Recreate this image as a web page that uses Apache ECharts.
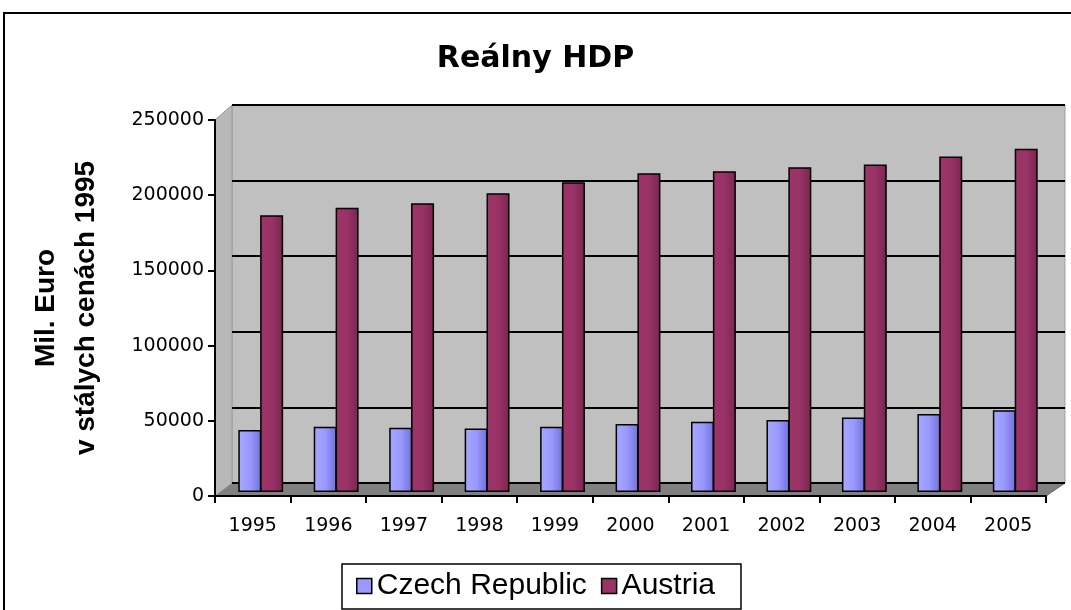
<!DOCTYPE html>
<html>
<head>
    <meta charset="utf-8" />
    <title>Reálny HDP</title>
    <script src="https://cdn.jsdelivr.net/npm/echarts@6/dist/echarts.min.js"></script>
    <style type="text/css">
        html, body { margin: 0; padding: 0; background: #fff; }
        #chart { width: 1071px; height: 610px; }
    </style>
</head>
<body>
    <div id="chart"></div>
    <script>
        // data
        var years = ['1995', '1996', '1997', '1998', '1999', '2000', '2001', '2002', '2003', '2004', '2005'];
        var czech = [41200, 43400, 42700, 42300, 43400, 45200, 46700, 47800, 49600, 51800, 54400];
        var austria = [184000, 189000, 192000, 198700, 206000, 212000, 213300, 216000, 217800, 223100, 228200];
        var yTicks = [0, 50000, 100000, 150000, 200000, 250000];

        var font = 'Liberation Sans, Arial, sans-serif';
        var wideFont = 'DejaVu Sans, sans-serif';
        var chart = echarts.init(document.getElementById('chart'));

        // cylinder-like shading
        function shade(light, mid, dark) {
            return new echarts.graphic.LinearGradient(0, 0, 1, 0, [
                { offset: 0, color: light },
                { offset: 0.5, color: mid },
                { offset: 1, color: dark }
            ]);
        }

        var option = {
            backgroundColor: '#ffffff',
            animation: false,
            title: {
                text: 'Reálny HDP',
                left: 'center',
                top: 39,
                textStyle: { fontFamily: wideFont, fontSize: 30, fontWeight: 'bold', color: '#000' }
            },
            legend: {
                bottom: 1,
                left: 'center',
                itemWidth: 15,
                itemHeight: 15,
                itemGap: 14,
                icon: 'rect',
                borderColor: '#000',
                borderWidth: 1.5,
                padding: [7, 26, 8, 14],
                textStyle: { fontFamily: font, fontSize: 30, color: '#000' },
                data: [
                    { name: 'Czech Republic', itemStyle: { color: '#9999ff', borderColor: '#000', borderWidth: 1.5 } },
                    { name: 'Austria', itemStyle: { color: '#993366', borderColor: '#000', borderWidth: 1.5 } }
                ]
            },
            graphic: [
                {
                    type: 'rect',
                    shape: { x: 4, y: 13, width: 1080, height: 620 },
                    style: { fill: 'none', stroke: '#000', lineWidth: 2 },
                    z: -10
                },
                // floor of the 3D box
                {
                    type: 'polygon',
                    shape: { points: [[215, 496], [232, 483], [1065, 483], [1046, 496]] },
                    style: { fill: '#808080', stroke: '#666', lineWidth: 1 },
                    z: 0
                },
                // left wall of the 3D box
                {
                    type: 'polygon',
                    shape: { points: [[215, 120], [232, 105], [232, 483], [215, 496]] },
                    style: { fill: '#b8b8b8', stroke: '#999', lineWidth: 1 },
                    z: 0
                }
            ],
            grid: [
                // back wall
                { left: 232, right: 6, top: 105, bottom: 127, show: true, backgroundColor: '#c0c0c0', borderColor: '#a0a0a0', borderWidth: 1 },
                // front axes
                { left: 215, right: 25, top: 120, bottom: 114 },
                // bars
                { left: 223, right: 18, top: 116, bottom: 118 }
            ],
            xAxis: [
                { gridIndex: 0, type: 'category', data: years, show: false },
                {
                    gridIndex: 1, type: 'category', data: years,
                    axisLine: { lineStyle: { color: '#000', width: 2 } },
                    axisTick: { show: true, length: 7, lineStyle: { color: '#000', width: 2 } },
                    axisLabel: { fontFamily: wideFont, fontSize: 19, color: '#000', margin: 21 }
                },
                { gridIndex: 2, type: 'category', data: years, show: false }
            ],
            yAxis: [
                {
                    gridIndex: 0, type: 'value', min: 0, max: 250000, interval: 50000,
                    axisLine: { show: false }, axisTick: { show: false }, axisLabel: { show: false },
                    splitLine: { lineStyle: { color: '#000', width: 2 } }
                },
                {
                    gridIndex: 1, type: 'value', min: 0, max: 250000, interval: 50000,
                    name: 'Mil. Euro\nv stálych cenách 1995',
                    nameLocation: 'middle',
                    nameRotate: 90,
                    nameGap: 109,
                    nameTextStyle: { fontFamily: font, fontSize: 28, fontWeight: 'bold', color: '#000', lineHeight: 40 },
                    axisLine: { show: true, lineStyle: { color: '#000', width: 2 } },
                    axisTick: { show: true, length: 7, lineStyle: { color: '#000', width: 2 } },
                    axisLabel: {
                        fontFamily: wideFont, fontSize: 19, color: '#000', margin: 11,
                        formatter: function (v) { return yTicks.indexOf(v) >= 0 ? String(v) : ''; }
                    },
                    splitLine: { show: false }
                },
                { gridIndex: 2, type: 'value', min: 0, max: 250000, show: false, splitLine: { show: false } }
            ],
            series: [
                {
                    name: 'Czech Republic', type: 'bar', xAxisIndex: 2, yAxisIndex: 2,
                    data: czech, barWidth: 23, barGap: '-5%', z: 3,
                    itemStyle: { color: shade('#a8a8ff', '#9999ff', '#7070d8'), borderColor: '#000', borderWidth: 1.5 }
                },
                {
                    name: 'Austria', type: 'bar', xAxisIndex: 2, yAxisIndex: 2,
                    data: austria, barWidth: 23, z: 4,
                    itemStyle: { color: shade('#9e3468', '#993366', '#7a2550'), borderColor: '#000', borderWidth: 1.5 }
                }
            ]
        };

        chart.setOption(option);
    </script>
</body>
</html>
